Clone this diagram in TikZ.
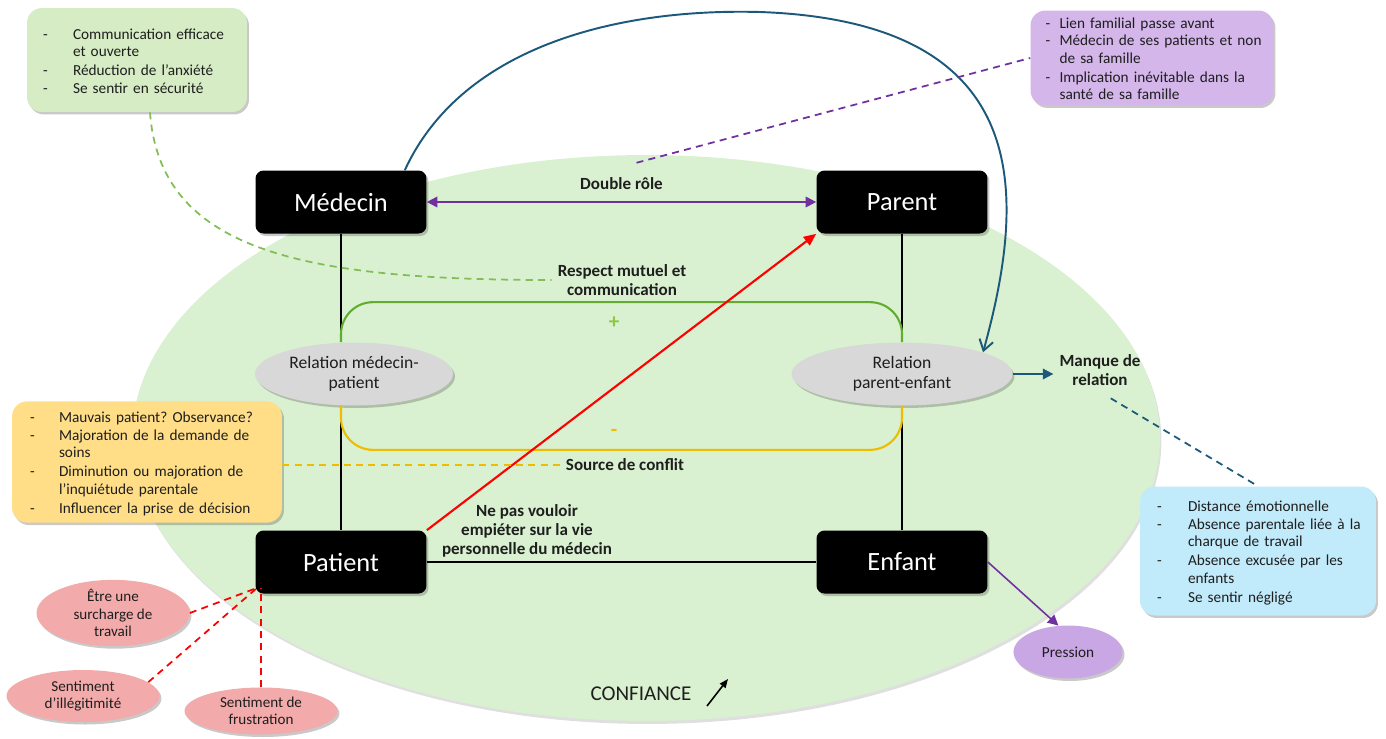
\documentclass[tikz,border=0pt]{standalone}
\usepackage{fontspec}
\setmainfont{Carlito}
\usetikzlibrary{shapes.geometric,arrows.meta,shadows}
\frenchspacing

\definecolor{vertfond}{RGB}{217,241,208}
\definecolor{vertcadre}{RGB}{214,236,196}
\definecolor{violetcadre}{RGB}{212,182,234}
\definecolor{jaunecadre}{RGB}{255,222,135}
\definecolor{bleucadre}{RGB}{193,234,250}
\definecolor{rosecadre}{RGB}{243,170,170}
\definecolor{grisrel}{RGB}{216,216,216}
\definecolor{violetpression}{RGB}{201,166,228}
\definecolor{verttrait}{RGB}{100,172,48}
\definecolor{vertsigne}{RGB}{140,200,70}
\definecolor{jaunetrait}{RGB}{240,188,0}
\definecolor{violettrait}{RGB}{112,48,160}
\definecolor{bleutrait}{RGB}{28,88,122}
\definecolor{texte}{RGB}{30,30,30}

\newlength{\retrait}
\newcommand{\tiret}[1]{\par\noindent\makebox[\retrait][l]{-}\begin{tabular}[t]{@{}l@{}}#1\end{tabular}}

\tikzset{
  ombre/.style={drop shadow={shadow xshift=0.04cm, shadow yshift=-0.05cm, opacity=0.3, fill=black!70}},
  acteur/.style={fill=black, rounded corners=0.16cm, minimum width=3.42cm, minimum height=1.26cm,
    text=white, font=\fontsize{15}{17}\selectfont, ombre},
  relation/.style={ellipse, fill=grisrel, minimum height=1.26cm, inner sep=0pt, align=center,
    text=texte, font=\fontsize{10}{11.5}\selectfont, ombre},
  cadre/.style={rounded corners=0.3cm, align=left, text=texte, font=\fontsize{8.7}{9.9}\selectfont,
    inner ysep=0.08cm, ombre},
  retrait/.style={execute at begin node={\setlength{\retrait}{#1}}},
  ressenti/.style={ellipse, fill=rosecadre, minimum width=3.06cm, inner sep=0pt, align=center,
    text=texte, font=\fontsize{8.6}{9.8}\selectfont, ombre},
  etiquette/.style={align=center, text=texte, font=\bfseries\fontsize{9.7}{11}\selectfont},
  signe/.style={font=\bfseries\fontsize{12}{12}\selectfont},
  fleche violette/.style={violettrait, line width=1.1pt},
  fleche bleue/.style={bleutrait, line width=1.1pt},
  tirets/.style={line width=1pt, dash pattern=on 4pt off 3pt},
}

\begin{document}
\begin{tikzpicture}[x=0.02cm, y=-0.02cm]
  \useasboundingbox (0,0) rectangle (1386,738);

  % Fond : confiance
  \fill[vertfond, drop shadow={shadow xshift=0.03cm, shadow yshift=-0.06cm, opacity=0.25}]
    (646,438) ellipse [x radius=10.28cm, y radius=5.66cm];

  % Acteurs
  \node[acteur] (med) at (341,202) {Médecin};
  \node[acteur] (par) at (902,202) {Parent};
  \node[acteur] (pat) at (341,562) {Patient};
  \node[acteur] (enf) at (902,562) {Enfant};

  % Relations
  \node[relation, minimum width=3.96cm] (rmp) at (354,374) {Relation médecin-\\patient};
  \node[relation, minimum width=4.42cm] (rpe) at (902,374) {Relation\\parent-enfant};

  % Liens entre acteurs
  \draw[line width=0.6pt] (med.south) -- (med.south |- rmp.north);
  \draw[line width=0.6pt] (med.south |- rmp.south) -- (pat.north);
  \draw[line width=0.6pt] (par.south) -- (rpe.north);
  \draw[line width=0.6pt] (rpe.south) -- (enf.north);
  \draw[line width=0.6pt] (pat) -- (enf);

  % Respect (+) et conflit (-)
  \draw[verttrait, line width=1.2pt, rounded corners=0.64cm]
    (med.south |- rmp.north) -- ++(0,-40) -| (rpe.north);
  \draw[jaunetrait, line width=1.2pt, rounded corners=0.64cm]
    (med.south |- rmp.south) -- ++(0,44) -| (rpe.south);

  % Etiquettes
  \node[etiquette] (respect) at (622,280) {Respect mutuel et\\communication};
  \node[signe, text=vertsigne] (plus) at (614,323) {+};
  \node[signe, text=jaunetrait] (moins) at (614,433) {-};
  \node[etiquette] (conflit) at (625,465) {Source de conflit};
  \node[etiquette] (empieter) at (527,531) {Ne pas vouloir\\empiéter sur la vie\\personnelle du médecin};
  \node[etiquette] (manque) at (1100,370) {Manque de\\relation};
  \node[text=texte, font=\fontsize{12}{14}\selectfont] (confiance) at (641,694) {CONFIANCE};
  \coordinate (hausse0) at (707,706);
  \coordinate (hausse1) at (728,679);
  \draw[line width=0.9pt, -{Triangle[length=5pt,width=4pt]}] (hausse0) -- (hausse1);

  % Fleches
  \draw[fleche violette, {Triangle[length=6pt,width=6pt]}-{Triangle[length=6pt,width=6pt]}]
    (med) -- node[etiquette, above=0.12cm] (double) {Double rôle} (par);
  \draw[red, line width=1.2pt, -{Triangle[length=7pt,width=6pt]}] (pat.north east) -- (par.south west);
  \draw[fleche bleue, -{Straight Barb[length=6pt,width=8pt]}]
    ([xshift=-0.44cm]med.north east) .. controls (460,50) and (610,8) .. (760,12)
    .. controls (1040,22) and (1025,200) .. (rpe.15);
  \draw[fleche bleue, -{Triangle[length=6pt,width=6pt]}] (rpe.east) -- (rpe.east -| manque.west);

  % Encadres
  \node[cadre, fill=vertcadre, text width=3.76cm, minimum height=2.08cm, inner xsep=0.32cm, retrait=0.6cm]
    (vert) at (137,60)
    {\tiret{Communication efficace\\et ouverte}\tiret{Réduction de l’anxiété}\tiret{Se sentir en sécurité}};
  \node[cadre, fill=violetcadre, text width=4.26cm, minimum height=1.86cm, inner xsep=0.3cm,
    inner ysep=0.01cm, retrait=0.28cm]
    (violet) at (1152,58)
    {\tiret{Lien familial passe avant}\tiret{Médecin de ses patients et non\\de sa famille}%
     \tiret{Implication inévitable dans la\\santé de sa famille}};
  \node[cadre, fill=jaunecadre, text width=4.68cm, minimum height=2.2cm, inner xsep=0.36cm, retrait=0.58cm]
    (jaune) at (147,462)
    {\tiret{Mauvais patient? Observance?}\tiret{Majoration de la demande de\\soins}%
     \tiret{Diminution ou majoration de\\l’inquiétude parentale}\tiret{Influencer la prise de décision}};
  \node[cadre, fill=bleucadre, text width=4.04cm, minimum height=2.58cm, inner xsep=0.34cm, retrait=0.62cm]
    (bleu) at (1258,551)
    {\tiret{Distance émotionnelle}\tiret{Absence parentale liée à la\\charque de travail}%
     \tiret{Absence excusée par les\\enfants}\tiret{Se sentir négligé}};

  % Liens en tirets vers les encadres
  \draw[tirets, verttrait!80] ([xshift=0.26cm]vert.south) .. controls (160,250) and (300,280) .. (respect.west);
  \draw[tirets, violettrait] ([xshift=0.3cm,yshift=0.15cm]double.north) -- (violet.west);
  \draw[tirets, jaunetrait] (jaune.east |- conflit.west) -- (conflit.west);
  \draw[tirets, bleutrait, shorten <=0.25cm] (manque.south) -- (bleu.north);

  % Pression
  \node[ellipse, fill=violetpression, minimum width=2.18cm, minimum height=1.06cm, inner sep=0pt,
    text=texte, font=\fontsize{8.7}{9.9}\selectfont, ombre] (pression) at (1068,652) {Pression};
  \draw[fleche violette, line width=0.9pt, -{Triangle[length=6pt,width=6pt]}] (enf.east) -- (pression.110);

  % Ressentis du patient
  \node[ressenti, minimum height=1.0cm] (etre) at (113,613) {Être une\\surcharge de\\travail};
  \node[ressenti, minimum height=1.04cm] (ill) at (83,696) {Sentiment\\d’illégitimité};
  \node[ressenti, minimum height=0.94cm] (fru) at (261,711) {Sentiment de\\frustration};
  \coordinate (coinpat) at ([xshift=0.04cm,yshift=0.12cm]pat.south west);
  \draw[tirets, red] (etre.east) -- (coinpat);
  \draw[tirets, red] (ill.12) -- (coinpat);
  \draw[tirets, red] (fru.north) -- (fru.north |- coinpat);
\end{tikzpicture}
\end{document}
